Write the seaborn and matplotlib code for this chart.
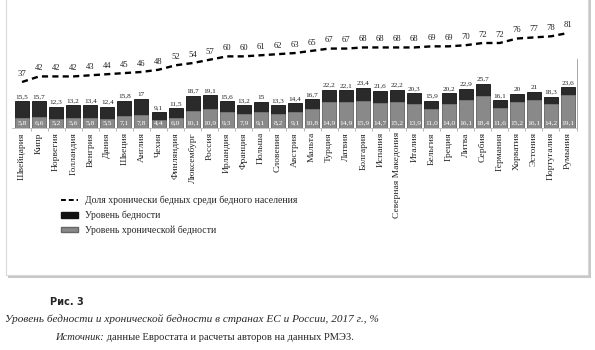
import numpy as np
import pandas as pd
import matplotlib
matplotlib.use("Agg")
import matplotlib.pyplot as plt
import seaborn as sns
from matplotlib.lines import Line2D
from matplotlib.patches import Patch, Rectangle

countries = ["Швейцария", "Кипр", "Норвегия", "Голландия", "Венгрия", "Дания", "Швеция",
             "Англия", "Чехия", "Финляндия", "Люксембург", "Россия", "Ирландия", "Франция",
             "Польша", "Словения", "Австрия", "Мальта", "Турция", "Латвия", "Болгария",
             "Испания", "Северная Македония", "Италия", "Бельгия", "Греция", "Литва",
             "Сербия", "Германия", "Хорватия", "Эстония", "Португалия", "Румыния"]
poverty = [15.5, 15.7, 12.3, 13.2, 13.4, 12.4, 15.8, 17, 9.1, 11.5, 18.7, 19.1, 15.6, 13.2,
           15, 13.3, 14.4, 16.7, 22.2, 22.1, 23.4, 21.6, 22.2, 20.3, 15.9, 20.2, 22.9,
           25.7, 16.1, 20, 21, 18.3, 23.6]
chronic = [5.8, 6.6, 5.2, 5.6, 5.8, 5.5, 7.1, 7.8, 4.4, 6.0, 10.1, 10.9, 9.3, 7.9,
           9.1, 8.2, 9.1, 10.8, 14.9, 14.9, 15.9, 14.7, 15.2, 13.9, 11.0, 14.0, 16.1,
           18.4, 11.6, 15.2, 16.1, 14.2, 19.1]
share = [37, 42, 42, 42, 43, 44, 45, 46, 48, 52, 54, 57, 60, 60, 61, 62, 63, 65, 67, 67,
         68, 68, 68, 68, 69, 69, 70, 72, 72, 76, 77, 78, 81]

legend_labels = ["Доля хронически бедных среди бедного населения",
                 "Уровень бедности", "Уровень хронической бедности"]
fig_label = "Рис. 3"
title = "Уровень бедности и хронической бедности в странах ЕС и России, 2017 г., %"
source_it = "Источник:"
source_rest = " данные Евростата и расчеты авторов на данных РМЭЗ."

def fmt(v):
    s = f"{v:g}"
    return s.replace(".", ",")

def fmt1(v):
    return f"{v:.1f}".replace(".", ",")

sns.set_theme(style="white")
plt.rcParams["font.family"] = ["Liberation Serif", "DejaVu Serif"]

df = pd.DataFrame({"country": countries, "poverty": poverty, "chronic": chronic, "share": share})

W, H = 595, 350
fig = plt.figure(figsize=(W / 100, H / 100), dpi=100)

# frame with shadow
fig.patches.append(Rectangle((8 / W, 1 - 278 / H), 583 / W, 280 / H, transform=fig.transFigure,
                             facecolor="#c8c8c8", edgecolor="none", zorder=-10))
fig.patches.append(Rectangle((6 / W, 1 - 275 / H), 582 / W, 278 / H, transform=fig.transFigure,
                             facecolor="white", edgecolor="#d8d8d8", linewidth=0.8, zorder=-9))

left = 11.8 / W
right = 576.5 / W
ax = fig.add_axes([left, 1 - 128 / H, right - left, 118 / H])
ax.set_facecolor("none")

sns.barplot(data=df, x="country", y="poverty", color="#2a2a2a", edgecolor="#111111",
            linewidth=0.6, width=0.82, saturation=1, ax=ax, zorder=2)
sns.barplot(data=df, x="country", y="chronic", color="#898989", edgecolor="#898989",
            linewidth=0.4, width=0.82, saturation=1, ax=ax, zorder=3)

ax.set_xlim(-0.6, len(countries) - 0.5)
ax.set_ylim(0, 68.6)
ax.set_xlabel("")
ax.set_ylabel("")
ax.set_yticks([])
ax.set_xticks(np.arange(len(countries)) + 0.5, minor=True)
ax.tick_params(axis="x", which="major", labelsize=6.8, rotation=90, pad=3, length=0)
ax.tick_params(axis="x", which="minor", length=2, width=0.6, color="#aaaaaa", bottom=True)
for lab in ax.get_xticklabels():
    lab.set_verticalalignment("top")
for s in ["top", "left"]:
    ax.spines[s].set_visible(False)
ax.spines["bottom"].set_color("#bbbbbb")
ax.spines["bottom"].set_linewidth(0.6)
ax.spines["right"].set_color("#999999")
ax.spines["right"].set_linewidth(0.6)
ax.spines["right"].set_bounds(0, 40)

for i, (p, c) in enumerate(zip(poverty, chronic)):
    ax.annotate(fmt(p), (i, p), xytext=(0, 1.5), textcoords="offset points",
                ha="center", va="bottom", fontsize=5.2, color="#222222", zorder=5)
    ax.annotate(fmt1(c), (i, 0), xytext=(0, 2.2), textcoords="offset points",
                ha="center", va="bottom", fontsize=5.4, color="white", zorder=5)

ax2 = ax.twinx()
ax2.set_facecolor("none")
x_pos = np.arange(len(countries))
sns.lineplot(x=x_pos, y=share, ax=ax2, color="black", linewidth=1.7, linestyle=(0, (2.6, 1.8)))
ax2.set_xlim(-0.6, len(countries) - 0.5)
ax2.set_ylim(-4.3, -4.3 + 118 / 1.114)
ax2.set_yticks([])
ax2.set_ylabel("")
for s in ["top", "left", "right", "bottom"]:
    ax2.spines[s].set_visible(False)
for i, v in enumerate(share):
    ax2.annotate(str(v), (i, v), xytext=(0, 3), textcoords="offset points",
                 ha="center", va="bottom", fontsize=6.2, color="#222222")

handles = [Line2D([], [], color="black", linestyle=(0, (2.5, 1.5)), linewidth=1.4),
           Patch(facecolor="#111111", edgecolor="#111111"),
           Patch(facecolor="#898989", edgecolor="#666666")]
fig.legend(handles, legend_labels, loc="upper left", bbox_to_anchor=(56 / W, 1 - 191 / H),
           frameon=False, fontsize=7, handlelength=1.8, handleheight=0.5,
           labelspacing=0.55, handletextpad=0.7, borderpad=0)

fig.text(50 / W, 1 - 302 / H, fig_label, fontsize=7, fontweight="bold",
         family=["DejaVu Sans"], va="center", ha="left")
fig.text(5 / W, 1 - 319 / H, title, fontsize=8.1, style="italic", va="center", ha="left")
t = fig.text(55 / W, 1 - 338 / H, source_it, fontsize=7.6, style="italic", va="center", ha="left")
fig.canvas.draw()
bb = t.get_window_extent()
fig.text(bb.x1 / W, 1 - 338 / H, source_rest, fontsize=7.6, va="center", ha="left")

fig.savefig("out.png", dpi=100)
